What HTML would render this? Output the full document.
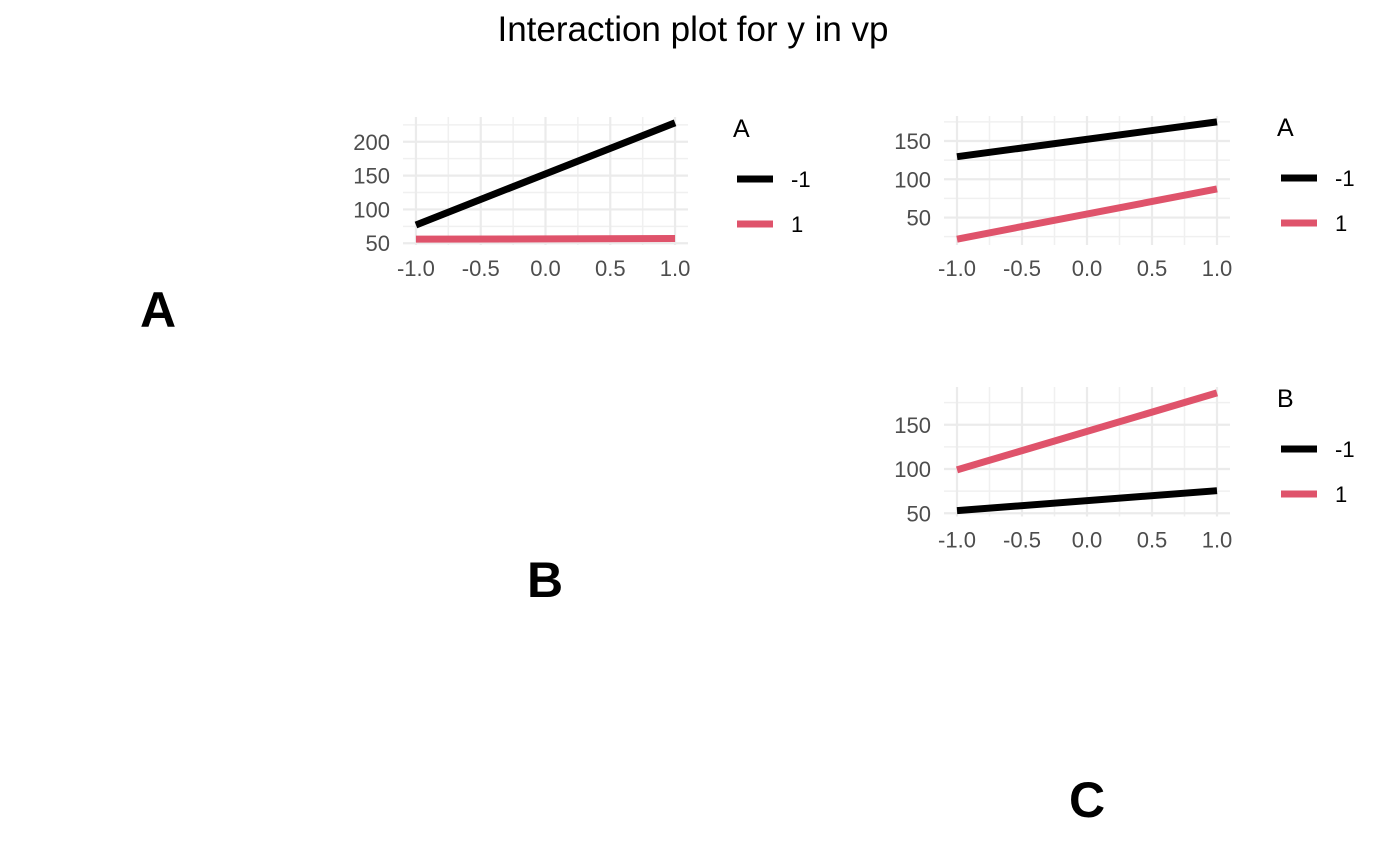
<!DOCTYPE html>
<html><head><meta charset="utf-8"><style>
html,body{margin:0;padding:0;background:#fff;}
svg{display:block;font-family:"Liberation Sans",Arial,sans-serif;}
</style></head><body>
<svg id="chart" width="1400" height="866" viewBox="0 0 1400 866">
<text x="693" y="41" font-size="35" text-anchor="middle" fill="#000">Interaction plot for y in vp</text>
<text x="158" y="327" font-size="50" font-weight="bold" text-anchor="middle">A</text>
<text x="545" y="597" font-size="50" font-weight="bold" text-anchor="middle">B</text>
<text x="1087" y="817" font-size="50" font-weight="bold" text-anchor="middle">C</text>
</svg>
<script>
const xCategories = [-1, 1];
const xTicks = [-1.0, -0.5, 0.0, 0.5, 1.0];
const xTickLabels = ["-1.0", "-0.5", "0.0", "0.5", "1.0"];
const seriesNames = ["-1", "1"];
const p1Black = [77, 228];
const p1Red = [56, 57];
const p2Black = [129.5, 175];
const p2Red = [21.8, 87.4];
const p3Black = [53, 75.5];
const p3Red = [99, 186];
const legendTitles = ["A", "A", "B"];

const colors = ["#000000", "#DF536B"];
const panels = [
  {name: "panel-1", x0: 403, x1: 688, top: 117, bottom: 245, series: [p1Black, p1Red], title: legendTitles[0], lx: 733},
  {name: "panel-2", x0: 944, x1: 1230, top: 116, bottom: 245, series: [p2Black, p2Red], title: legendTitles[1], lx: 1277},
  {name: "panel-3", x0: 944, x1: 1230, top: 387, bottom: 516.5, series: [p3Black, p3Red], title: legendTitles[2], lx: 1277}
];
const svg = document.getElementById('chart');
const NS = "http://www.w3.org/2000/svg";
function mk(tag, attrs, parent) {
  const e = document.createElementNS(NS, tag);
  for (const k in attrs) e.setAttribute(k, attrs[k]);
  (parent || svg).appendChild(e);
  return e;
}
panels.forEach(p => {
  const g = mk('g', {});
  
  
  let all = [];
  p.series.forEach(s => all = all.concat(s));
  let mn = Math.min(...all), mx = Math.max(...all);
  const pad = (mx - mn) * 0.05; mn -= pad; mx += pad;
  const xs = v => p.x0 + (v + 1.1) / 2.2 * (p.x1 - p.x0);
  const ys = v => p.bottom - (v - mn) / (mx - mn) * (p.bottom - p.top);
  for (let i = 0; i < xTicks.length - 1; i++) {
    const v = (xTicks[i] + xTicks[i + 1]) / 2;
    const l = mk('line', {x1: xs(v), x2: xs(v), y1: p.top, y2: p.bottom, stroke: '#f0f0f0', 'stroke-width': 1.5}, g);
    
    
  }
  const yb = [];
  for (let v = Math.ceil(mn / 50) * 50; v <= mx; v += 50) yb.push(v);
  const ym = [];
  for (let v = Math.ceil(mn / 50) * 50 - 25; v <= mx; v += 50) if (v >= mn) ym.push(v);
  ym.forEach(v => {
    const l = mk('line', {x1: p.x0, x2: p.x1, y1: ys(v), y2: ys(v), stroke: '#f0f0f0', 'stroke-width': 1.5}, g);
    
    
  });
  xTicks.forEach((v, i) => {
    const l = mk('line', {x1: xs(v), x2: xs(v), y1: p.top, y2: p.bottom, stroke: '#ebebeb', 'stroke-width': 2.2}, g);
    
    
    const t = mk('text', {x: xs(v), y: p.bottom + 31, 'font-size': 22, fill: '#4d4d4d', 'text-anchor': 'middle'}, g);
    t.textContent = xTickLabels[i];
    
    
  });
  yb.forEach(v => {
    const l = mk('line', {x1: p.x0, x2: p.x1, y1: ys(v), y2: ys(v), stroke: '#ebebeb', 'stroke-width': 2.2}, g);
    
    
    const t = mk('text', {x: p.x0 - 13, y: ys(v) + 8, 'font-size': 22, fill: '#4d4d4d', 'text-anchor': 'end'}, g);
    t.textContent = v;
    
    
  });
  p.series.forEach((s, si) => {
    const l = mk('line', {x1: xs(xCategories[0]), y1: ys(s[0]), x2: xs(xCategories[1]), y2: ys(s[1]), stroke: colors[si], 'stroke-width': 7}, g);
    
    
  });
  const lt = mk('text', {x: p.lx, y: p.top + 20, 'font-size': 25, fill: '#000'}, g);
  lt.textContent = p.title;
  
  
  seriesNames.forEach((n, si) => {
    const cy = p.top + 62 + si * 45;
    const k = mk('line', {x1: p.lx + 4, x2: p.lx + 40, y1: cy, y2: cy, stroke: colors[si], 'stroke-width': 7}, g);
    
    
    const t = mk('text', {x: p.lx + 58, y: cy + 8, 'font-size': 22, fill: '#000'}, g);
    t.textContent = n;
    
    
  });
});
</script>
</body></html>
